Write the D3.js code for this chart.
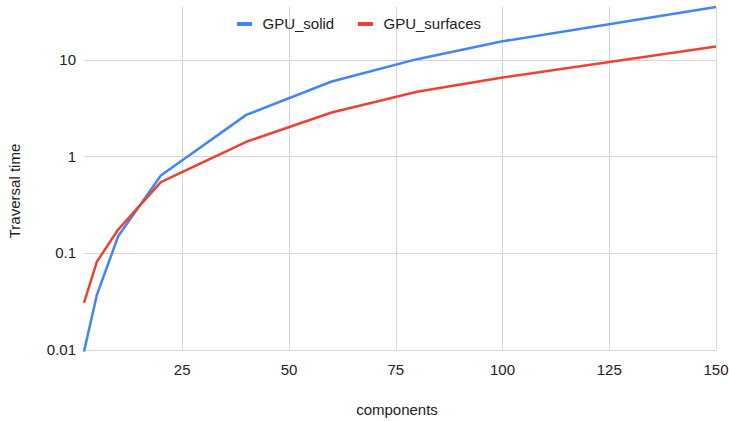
<!DOCTYPE html>
<html>
<head>
<meta charset="utf-8">
<script src="https://cdn.jsdelivr.net/npm/d3@7"></script>
<style>
  body { margin: 0; background: #fff; }
  text { font-family: Arial, "Liberation Sans", sans-serif; fill: #222; }
</style>
</head>
<body>
<svg id="chart" width="729" height="421"></svg>
<script>
// data
let components = [2, 5, 10, 20, 40, 60, 80, 100, 150];
let gpuSolid = [0.0095, 0.0366, 0.149, 0.635, 2.7, 5.98, 10.2, 15.6, 35.4];
let gpuSurfaces = [0.0304, 0.081, 0.175, 0.543, 1.42, 2.86, 4.68, 6.58, 13.8];
let xTicks = [25, 50, 75, 100, 125, 150];
let yTicks = [0.01, 0.1, 1, 10];
let seriesNames = ["GPU_solid", "GPU_surfaces"];
let seriesColors = ["#4285f4", "#ea4335"];

let svg = d3.select("#chart");
let plotLeft = 84, plotRight = 716, plotTop = 7, plotBottom = 349.5;

let x = d3.scaleLinear().domain([2, 150]).range([plotLeft, plotRight]);
let y = d3.scaleLog().domain([0.01, 35.4]).range([plotBottom, plotTop]);

// grid
let grid = svg.append("g").attr("stroke", "#d6d6d6").attr("stroke-width", 1);
grid.selectAll(".vg").data(xTicks).enter().append("line")
	.attr("x1", d => Math.round(x(d)) + 0.5).attr("x2", d => Math.round(x(d)) + 0.5)
	.attr("y1", plotTop).attr("y2", plotBottom);
grid.selectAll(".hg").data(yTicks).enter().append("line")
	.attr("x1", plotLeft).attr("x2", plotRight)
	.attr("y1", d => Math.round(y(d)) + 0.5).attr("y2", d => Math.round(y(d)) + 0.5);

// tick labels
svg.append("g").selectAll("text").data(yTicks).enter().append("text")
	.attr("x", 76).attr("y", d => y(d)).attr("dy", "0.35em")
	.attr("text-anchor", "end").attr("font-size", 15)
	.text(d => d3.format("~g")(d));

svg.append("g").selectAll("text").data(xTicks).enter().append("text")
	.attr("x", d => x(d)).attr("y", 370).attr("dy", "0.35em")
	.attr("text-anchor", "middle").attr("font-size", 15)
	.text(d => d);

// axis titles
svg.append("text").attr("x", 397).attr("y", 410).attr("dy", "0.35em")
	.attr("text-anchor", "middle").attr("font-size", 15).text("components");
svg.append("text").attr("transform", "translate(15,191) rotate(-90)")
	.attr("dy", "0.35em").attr("text-anchor", "middle").attr("font-size", 15)
	.text("Traversal time");

// lines
let line = d3.line().x(d => x(d[0])).y(d => y(d[1]));
[gpuSolid, gpuSurfaces].forEach((vals, i) => {
	svg.append("path")
		.datum(components.map((c, j) => [c, vals[j]]))
		.attr("fill", "none")
		.attr("stroke", seriesColors[i])
		.attr("stroke-width", 2.5)
		.attr("stroke-linejoin", "round")
		.attr("d", line);
});

// legend
let legendX = [237, 358];
let legend = svg.append("g").selectAll("g").data(seriesNames).enter().append("g")
	.attr("transform", (d, i) => "translate(" + legendX[i] + ",24)");
legend.append("rect").attr("x", 0).attr("y", -2).attr("width", 15).attr("height", 4)
	.attr("fill", (d, i) => seriesColors[i]);
legend.append("text").attr("x", 25.5).attr("y", 0).attr("dy", "0.35em")
	.attr("font-size", 15).text(d => d);
</script>
</body>
</html>
